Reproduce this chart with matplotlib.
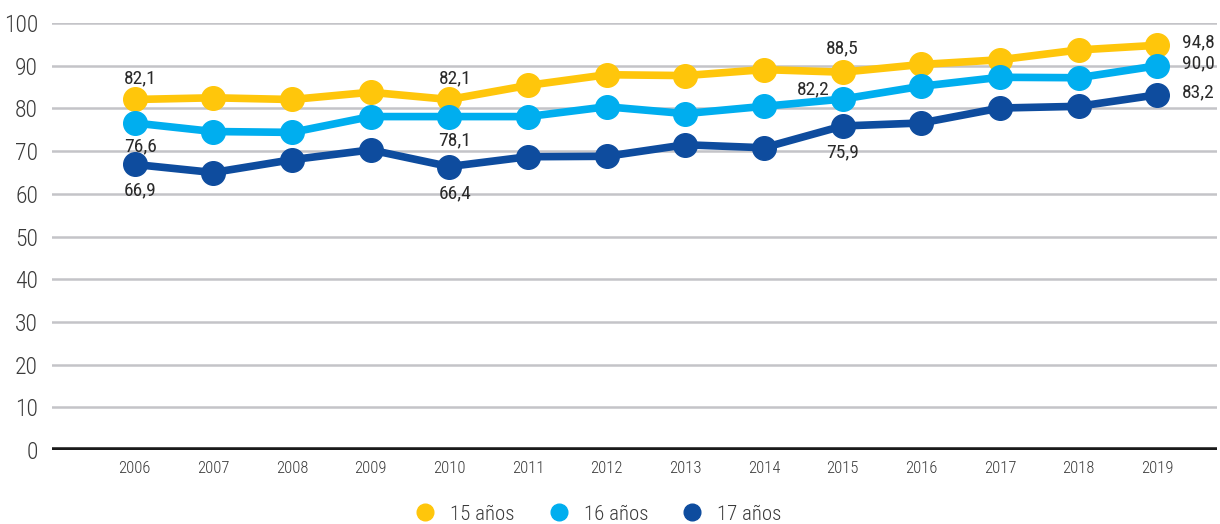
import matplotlib
matplotlib.use("Agg")
import matplotlib.pyplot as plt
from matplotlib.lines import Line2D

plt.rcParams['font.family'] = ['Roboto Condensed', 'DejaVu Sans']
plt.rcParams['font.stretch'] = 'condensed'
plt.rcParams['font.weight'] = 'light'

years = [2006, 2007, 2008, 2009, 2010, 2011, 2012, 2013, 2014, 2015, 2016, 2017, 2018, 2019]
edad_15 = [82.1, 82.5, 82.1, 83.8, 82.1, 85.4, 87.9, 87.7, 89.1, 88.5, 90.3, 91.4, 93.7, 94.8]
edad_16 = [76.6, 74.6, 74.4, 78.1, 78.1, 78.1, 80.4, 78.8, 80.5, 82.2, 85.2, 87.3, 87.2, 90.0]
edad_17 = [66.9, 65.0, 68.0, 70.3, 66.4, 68.7, 68.8, 71.5, 70.8, 75.9, 76.6, 80.1, 80.5, 83.2]
series_names = ['15 años', '16 años', '17 años']
colors = ['#FFC60B', '#00AEEF', '#0E4C9E']

fig = plt.figure(figsize=(12.2, 5.24), dpi=100)
ax = fig.add_axes([0.0426, 0.141, 0.955, 0.815])

for vals, c in zip([edad_15, edad_16, edad_17], colors):
    ax.plot(years, vals, color=c, lw=5.5, marker='o', ms=17, zorder=3,
            solid_capstyle='round', clip_on=False)

# data labels
def lab(x, y, dx, dy, ha='center'):
    txt = ('%.1f' % y).replace('.', ',')
    ax.annotate(txt, (x, y), xytext=(dx, dy), textcoords='offset points',
                ha=ha, va='center', fontsize=14, fontweight='normal',
                color='#2a2a2a')

for i in [0, 4]:
    lab(years[i], edad_15[i], 4, 15)
    lab(years[i], edad_16[i], 4, -17)
    lab(years[i], edad_17[i], 4, -19)
lab(years[9], edad_15[9], 0, 17)
lab(years[9], edad_16[9], -9, 7, ha='right')
lab(years[9], edad_17[9], 0, -19)
for vals in [edad_15, edad_16, edad_17]:
    lab(years[-1], vals[-1], 18, 2, ha='left')

ax.set_xlim(2004.95, 2019.76)
ax.set_ylim(0, 100)
ax.set_yticks(range(0, 101, 10))
ax.set_xticks(years)
ax.grid(axis='y', color='#c4c4c8', lw=1.8, zorder=0)
ax.axhline(0, color='#1a1a1a', lw=4, zorder=2)
for s in ax.spines.values():
    s.set_visible(False)
ax.tick_params(axis='both', length=0)
ax.tick_params(axis='y', labelsize=17, colors='#3a3a3a', pad=10)
ax.tick_params(axis='x', labelsize=12, colors='#3a3a3a', pad=8)

handles = [Line2D([], [], ls='none', marker='o', ms=12, color=c) for c in colors]
fig.legend(handles, series_names, loc='lower center', bbox_to_anchor=(0.486, -0.035),
           ncol=3, frameon=False, fontsize=15, handletextpad=0.2, columnspacing=1.1,
           labelcolor='#3a3a3a')

fig.savefig('out.png', dpi=100)
